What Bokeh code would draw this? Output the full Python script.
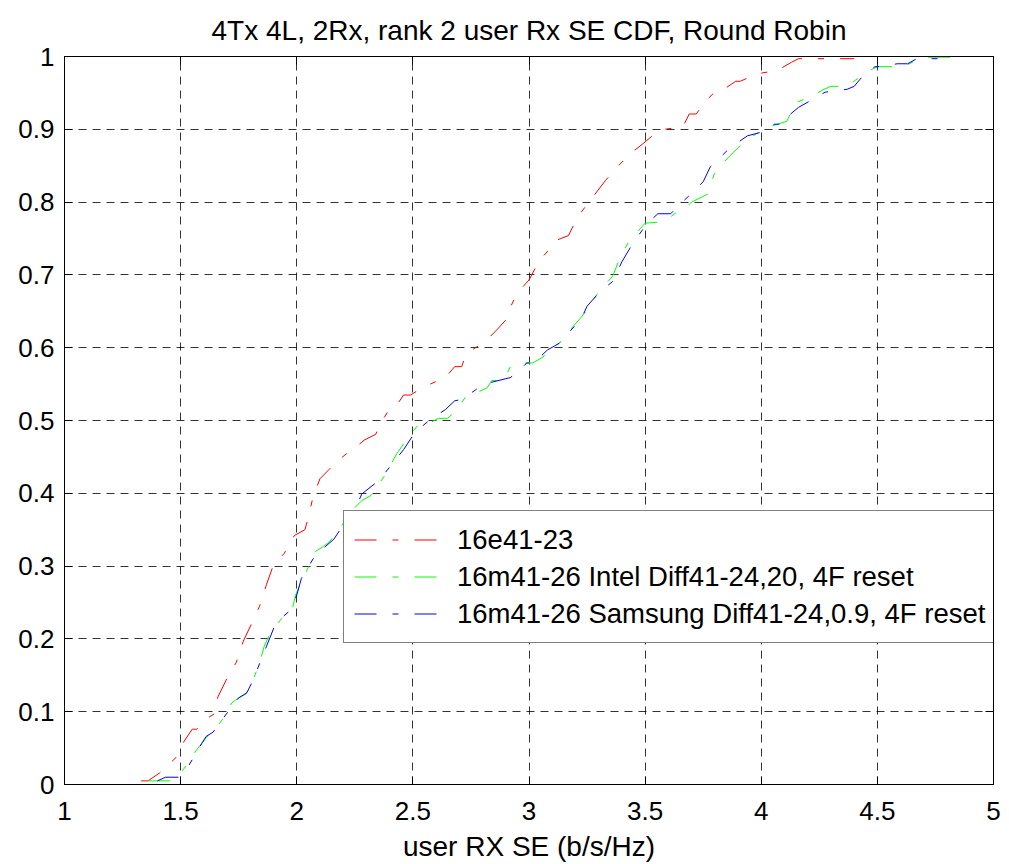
from bokeh.plotting import figure
from bokeh.models import FixedTicker, LinearAxis, Legend, LegendItem, Range1d
from bokeh.embed import file_html
from bokeh.resources import INLINE

title_text = "4Tx 4L, 2Rx, rank 2 user Rx SE CDF, Round Robin"
x_label = "user RX SE (b/s/Hz)"
x_ticks = [1, 1.5, 2, 2.5, 3, 3.5, 4, 4.5, 5]
x_tick_labels = ["1", "1.5", "2", "2.5", "3", "3.5", "4", "4.5", "5"]
y_ticks = [0, 0.1, 0.2, 0.3, 0.4, 0.5, 0.6, 0.7, 0.8, 0.9, 1]
y_tick_labels = ["0", "0.1", "0.2", "0.3", "0.4", "0.5", "0.6", "0.7", "0.8", "0.9", "1"]
series_names = ["16e41-23",
                "16m41-26 Intel Diff41-24,20, 4F reset",
                "16m41-26 Samsung Diff41-24,0.9, 4F reset"]
series_colors = ["#ff0000", "#00ff00", "#0000ff"]

red_x = [1.33, 1.36, 1.41, 1.46, 1.48, 1.51, 1.55, 1.57, 1.62, 1.65, 1.66, 1.70, 1.74, 1.77,
         1.81, 1.84, 1.87, 1.90, 1.945, 1.99, 2.035, 2.05, 2.07, 2.10, 2.14, 2.16, 2.22, 2.24,
         2.29, 2.34, 2.355, 2.39, 2.42, 2.46, 2.49, 2.54, 2.61, 2.635, 2.68, 2.71, 2.73, 2.79,
         2.81, 2.86, 2.90, 2.91, 2.94, 2.955, 3.00, 3.045, 3.09, 3.105, 3.17, 3.21, 3.27, 3.33,
         3.40, 3.45, 3.49, 3.56, 3.63, 3.66, 3.69, 3.72, 3.76, 3.81, 3.835, 3.89, 3.91, 3.98,
         4.05, 4.07, 4.13, 4.16, 4.22, 4.40]
red_y = [0.005, 0.005, 0.016, 0.031, 0.037, 0.057, 0.076, 0.076, 0.092, 0.098, 0.120, 0.146,
         0.168, 0.197, 0.224, 0.245, 0.275, 0.302, 0.317, 0.342, 0.350, 0.367, 0.395, 0.420,
         0.433, 0.440, 0.456, 0.459, 0.473, 0.481, 0.493, 0.511, 0.516, 0.535, 0.535, 0.545,
         0.555, 0.557, 0.574, 0.574, 0.592, 0.604, 0.608, 0.624, 0.638, 0.649, 0.669, 0.677,
         0.693, 0.720, 0.736, 0.746, 0.754, 0.780, 0.805, 0.830, 0.855, 0.870, 0.880, 0.899,
         0.902, 0.902, 0.921, 0.921, 0.939, 0.954, 0.954, 0.966, 0.966, 0.976, 0.980, 0.981,
         0.992, 0.997, 0.997, 0.997]

green_x = [1.36, 1.46, 1.51, 1.54, 1.565, 1.59, 1.61, 1.63, 1.65, 1.69, 1.72, 1.75, 1.78, 1.81,
           1.84, 1.86, 1.88, 1.915, 1.95, 1.98, 1.995, 2.02, 2.045, 2.08, 2.11, 2.14, 2.17, 2.19,
           2.24, 2.28, 2.32, 2.38, 2.43, 2.48, 2.52, 2.55, 2.61, 2.65, 2.69, 2.73, 2.76, 2.82,
           2.84, 2.89, 2.92, 2.95, 3.015, 3.06, 3.09, 3.13, 3.17, 3.22, 3.25, 3.30, 3.36, 3.39,
           3.43, 3.50, 3.58, 3.64, 3.66, 3.70, 3.77, 3.80, 3.86, 3.93, 3.99, 4.01, 4.07, 4.11,
           4.15, 4.21, 4.27, 4.30, 4.37, 4.45, 4.50, 4.61, 4.67, 4.69, 4.86]
green_y = [0.005, 0.005, 0.020, 0.033, 0.046, 0.056, 0.064, 0.070, 0.076, 0.094, 0.112, 0.119,
           0.124, 0.142, 0.167, 0.190, 0.204, 0.220, 0.234, 0.240, 0.260, 0.280, 0.295, 0.320,
           0.326, 0.333, 0.345, 0.354, 0.377, 0.390, 0.397, 0.425, 0.454, 0.477, 0.493, 0.493,
           0.503, 0.503, 0.515, 0.534, 0.536, 0.545, 0.555, 0.555, 0.574, 0.579, 0.579, 0.587,
           0.600, 0.606, 0.622, 0.640, 0.652, 0.677, 0.698, 0.722, 0.746, 0.771, 0.773, 0.787,
           0.787, 0.800, 0.811, 0.841, 0.862, 0.884, 0.896, 0.901, 0.907, 0.911, 0.937, 0.944,
           0.955, 0.959, 0.959, 0.978, 0.986, 0.986, 0.995, 0.999, 0.999]

blue_x = [1.40, 1.435, 1.49, 1.535, 1.59, 1.61, 1.64, 1.69, 1.75, 1.785, 1.81, 1.87, 1.91, 1.975,
          2.00, 2.02, 2.08, 2.16, 2.195, 2.255, 2.28, 2.355, 2.41, 2.46, 2.51, 2.57, 2.64, 2.68,
          2.71, 2.77, 2.795, 2.92, 2.95, 2.99, 3.02, 3.08, 3.13, 3.20, 3.23, 3.25, 3.30, 3.36,
          3.40, 3.45, 3.51, 3.555, 3.61, 3.64, 3.69, 3.705, 3.75, 3.78, 3.80, 3.86, 3.94, 4.00,
          4.055, 4.09, 4.115, 4.16, 4.21, 4.275, 4.37, 4.40, 4.45, 4.49, 4.52, 4.585, 4.63, 4.67,
          4.77]
blue_y = [0.005, 0.010, 0.010, 0.026, 0.056, 0.066, 0.072, 0.094, 0.119, 0.126, 0.142, 0.190,
          0.222, 0.240, 0.260, 0.283, 0.315, 0.337, 0.354, 0.381, 0.399, 0.418, 0.440, 0.460,
          0.484, 0.500, 0.515, 0.527, 0.529, 0.542, 0.549, 0.559, 0.566, 0.579, 0.579, 0.597,
          0.606, 0.631, 0.643, 0.657, 0.675, 0.691, 0.718, 0.745, 0.771, 0.784, 0.784, 0.794,
          0.809, 0.813, 0.828, 0.848, 0.854, 0.873, 0.891, 0.896, 0.907, 0.907, 0.918, 0.930,
          0.939, 0.951, 0.955, 0.959, 0.978, 0.986, 0.986, 0.990, 0.990, 0.997, 0.997]

FONT = "Liberation Sans"

p = figure(width=1009, height=864, x_range=Range1d(1, 5), y_range=Range1d(0, 1),
           output_backend="svg", toolbar_location=None,
           min_border_left=64, min_border_right=16, min_border_top=56, min_border_bottom=75,
           background_fill_color="white", border_fill_color="white")

p.title.text = title_text
p.title.align = "center"
p.title.text_font = FONT
p.title.text_font_size = "28px"
p.title.text_font_style = "normal"
p.title.text_color = "black"
p.title.standoff = 22

p.outline_line_color = "black"
p.outline_line_width = 1

xo = dict(zip(x_ticks, x_tick_labels))
yo = dict(zip(y_ticks, y_tick_labels))


def style_axis(ax, ticks, overrides, show_labels):
    ax.ticker = FixedTicker(ticks=ticks)
    ax.major_label_overrides = overrides
    ax.major_tick_in = 8
    ax.major_tick_out = 0
    ax.minor_tick_line_color = None
    ax.axis_line_color = "black"
    ax.major_tick_line_color = "black"
    ax.major_label_text_font = FONT
    ax.major_label_text_color = "black"
    if show_labels:
        ax.major_label_text_font_size = "26px"
    else:
        ax.major_label_text_font_size = "0px"
        ax.major_label_text_color = None
        ax.major_label_standoff = 0


style_axis(p.xaxis[0], x_ticks, xo, True)
style_axis(p.yaxis[0], y_ticks, yo, True)
p.xaxis[0].major_label_standoff = 17
p.yaxis[0].major_label_standoff = 10
p.xaxis[0].axis_label = x_label
p.xaxis[0].axis_label_text_font = FONT
p.xaxis[0].axis_label_text_font_size = "28px"
p.xaxis[0].axis_label_text_font_style = "normal"
p.xaxis[0].axis_label_text_color = "black"
p.xaxis[0].axis_label_standoff = 8

top_ax = LinearAxis()
right_ax = LinearAxis()
style_axis(top_ax, x_ticks, xo, False)
style_axis(right_ax, y_ticks, yo, False)
p.add_layout(top_ax, "above")
p.add_layout(right_ax, "right")

for g in (p.xgrid[0], p.ygrid[0]):
    g.grid_line_color = "#000000"
    g.grid_line_alpha = 0.8
    g.grid_line_dash = "8 6"
    g.grid_line_width = 1

dash = "22 16 6 16"
series = [(red_x, red_y), (green_x, green_y), (blue_x, blue_y)]
items = []
for (xs, ys), name, col in zip(series, series_names, series_colors):
    r = p.line(xs, ys, line_color=col, line_width=1, line_dash=dash)
    items.append(LegendItem(label=name, renderers=[r]))

legend = Legend(items=items, location=(279, 141))
legend.label_text_font = FONT
legend.label_text_font_size = "27.5px"
legend.label_text_color = "black"
legend.border_line_color = "black"
legend.border_line_width = 1
legend.background_fill_color = "white"
legend.background_fill_alpha = 1
legend.padding = 10
legend.spacing = 0
legend.margin = 0
legend.glyph_width = 84
legend.glyph_height = 37
legend.label_height = 37
legend.label_standoff = 19
p.add_layout(legend, "center")

open("out.html", "w").write(file_html(p, INLINE))
